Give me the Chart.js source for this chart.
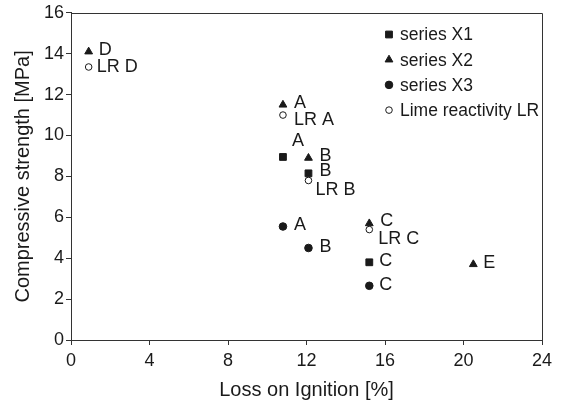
<!DOCTYPE html>
<html>
<head>
<meta charset="utf-8">
<script src="https://cdn.jsdelivr.net/npm/chart.js@4/dist/chart.umd.min.js"></script>
<style>
html,body{margin:0;padding:0;background:#fff;}
#wrap{width:562px;height:402px;}
</style>
</head>
<body>
<div id="wrap"><canvas id="c" width="562" height="402"></canvas></div>
<script>
// ---- data ----
const seriesNames = ['series X1', 'series X2', 'series X3', 'Lime reactivity LR'];

const x1Loi  = [10.8, 12.1, 15.2];
const x1Str  = [8.95, 8.15, 3.8];
const x1Lbl  = ['A', 'B', 'C'];

const x2Loi  = [0.9, 10.8, 12.1, 15.2, 20.5];
const x2Str  = [14.1, 11.5, 8.9, 5.7, 3.7];
const x2Lbl  = ['D', 'A', 'B', 'C', 'E'];

const x3Loi  = [10.8, 12.1, 15.2];
const x3Str  = [5.55, 4.5, 2.65];
const x3Lbl  = ['A', 'B', 'C'];

const lrLoi  = [0.9, 10.8, 12.1, 15.2];
const lrStr  = [13.35, 11.0, 7.8, 5.4];
const lrLbl  = ['LR D', 'LR A', 'LR B', 'LR C'];

const xTicks = [0, 4, 8, 12, 16, 20, 24];
const yTicks = [0, 2, 4, 6, 8, 10, 12, 14, 16];
const xTitle = 'Loss on Ignition [%]';
const yTitle = 'Compressive strength [MPa]';

// ---- presentation ----
const FONT = '"Liberation Sans", Arial, Helvetica, sans-serif';
const INK = '#1a1a1a';
const AXIS = '#333';

// label offsets in pixels (dx, dy) per point, per dataset
const labelOffsets = [
  [[9,-16],[11,-2],[10,-1]],
  [[10,-2],[11,-2],[11,-2],[11,-2],[10,-1]],
  [[11,-1],[11,-1],[10,-1]],
  [[8,0],[11,5],[7,10],[9,9]]
];

function pts(xs, ys){ return xs.map((x,i)=>({x:x, y:ys[i]})); }

const styles = [
  {pointStyle:'rect', radius:4.8, bg:INK, border:INK},
  {pointStyle:'triangle', radius:4.5, bg:INK, border:INK},
  {pointStyle:'circle', radius:3.8, bg:INK, border:INK},
  {pointStyle:'circle', radius:3.3, bg:'#fff', border:INK}
];
const allData = [pts(x1Loi,x1Str), pts(x2Loi,x2Str), pts(x3Loi,x3Str), pts(lrLoi,lrStr)];
const allLabels = [x1Lbl, x2Lbl, x3Lbl, lrLbl];

const datasets = seriesNames.map((name,i)=>({
  label: name,
  data: allData[i],
  pointStyle: styles[i].pointStyle,
  pointRadius: styles[i].radius,
  pointHoverRadius: styles[i].radius,
  pointBackgroundColor: styles[i].bg,
  pointBorderColor: styles[i].border,
  pointBorderWidth: 1,
  showLine: false
}));

const labelPlugin = {
  id: 'pointLabels',
  afterDatasetsDraw(chart){
    const ctx = chart.ctx;
    ctx.save();
    ctx.font = '18px ' + FONT;
    ctx.fillStyle = INK;
    ctx.textAlign = 'left';
    ctx.textBaseline = 'middle';
    chart.data.datasets.forEach((ds, di)=>{
      const meta = chart.getDatasetMeta(di);
      meta.data.forEach((el, pi)=>{
        const off = labelOffsets[di][pi];
        ctx.fillText(allLabels[di][pi], el.x + off[0], el.y + off[1]);
      });
    });
    ctx.restore();
  }
};

const framePlugin = {
  id: 'frame',
  afterDraw(chart){
    const a = chart.chartArea, ctx = chart.ctx;
    ctx.save();
    ctx.strokeStyle = AXIS;
    ctx.lineWidth = 1;
    ctx.beginPath();
    ctx.moveTo(Math.round(a.left)+0.5, Math.round(a.top)+0.5);
    ctx.lineTo(Math.round(a.right)+0.5, Math.round(a.top)+0.5);
    ctx.lineTo(Math.round(a.right)+0.5, Math.round(a.bottom)+0.5);
    ctx.stroke();
    ctx.restore();
  }
};

const legendPlugin = {
  id: 'innerLegend',
  afterDraw(chart){
    const ctx = chart.ctx;
    const x0 = 389, y0 = 34.5, step = 25.2;
    ctx.save();
    ctx.font = '17.5px ' + FONT;
    ctx.textAlign = 'left';
    ctx.textBaseline = 'middle';
    seriesNames.forEach((name,i)=>{
      const y = y0 + i*step;
      ctx.fillStyle = styles[i].bg;
      ctx.strokeStyle = styles[i].border;
      ctx.lineWidth = 1;
      Chart.helpers.drawPoint(ctx, {pointStyle: styles[i].pointStyle, radius: styles[i].radius, borderWidth: 1, rotation: 0}, x0, y);
      ctx.fillStyle = INK;
      ctx.fillText(name, x0 + 11, y + 1);
    });
    ctx.restore();
  }
};

new Chart(document.getElementById('c'), {
  type: 'scatter',
  data: { datasets },
  options: {
    responsive: false,
    animation: false,
    layout: { padding: { top: 12, right: 20, left: 0, bottom: 0 } },
    plugins: { legend: { display: false }, tooltip: { enabled: false } },
    scales: {
      x: {
        type: 'linear', min: 0, max: 24,
        afterBuildTicks(s){ s.ticks = xTicks.map(v=>({value:v})); },
        afterFit(s){ s.height = 62; },
        ticks: { color: INK, font: { family: FONT, size: 18 }, padding: 5 },
        grid: { drawOnChartArea: false, drawTicks: true, tickLength: 5, color: AXIS },
        border: { display: true, color: AXIS, width: 1 },
        title: { display: true, text: xTitle, color: INK, font: { family: FONT, size: 20 }, padding: { top: 0, bottom: 0 } }
      },
      y: {
        type: 'linear', min: 0, max: 16,
        afterBuildTicks(s){ s.ticks = yTicks.map(v=>({value:v})); },
        afterFit(s){ s.width = 71; },
        ticks: { color: INK, font: { family: FONT, size: 18 }, padding: 2 },
        grid: { drawOnChartArea: false, drawTicks: true, tickLength: 5, color: AXIS },
        border: { display: true, color: AXIS, width: 1 },
        title: { display: true, text: yTitle, color: INK, font: { family: FONT, size: 20 }, padding: { top: 11, bottom: 0 } }
      }
    }
  },
  plugins: [labelPlugin, framePlugin, legendPlugin]
});
</script>
</body>
</html>
